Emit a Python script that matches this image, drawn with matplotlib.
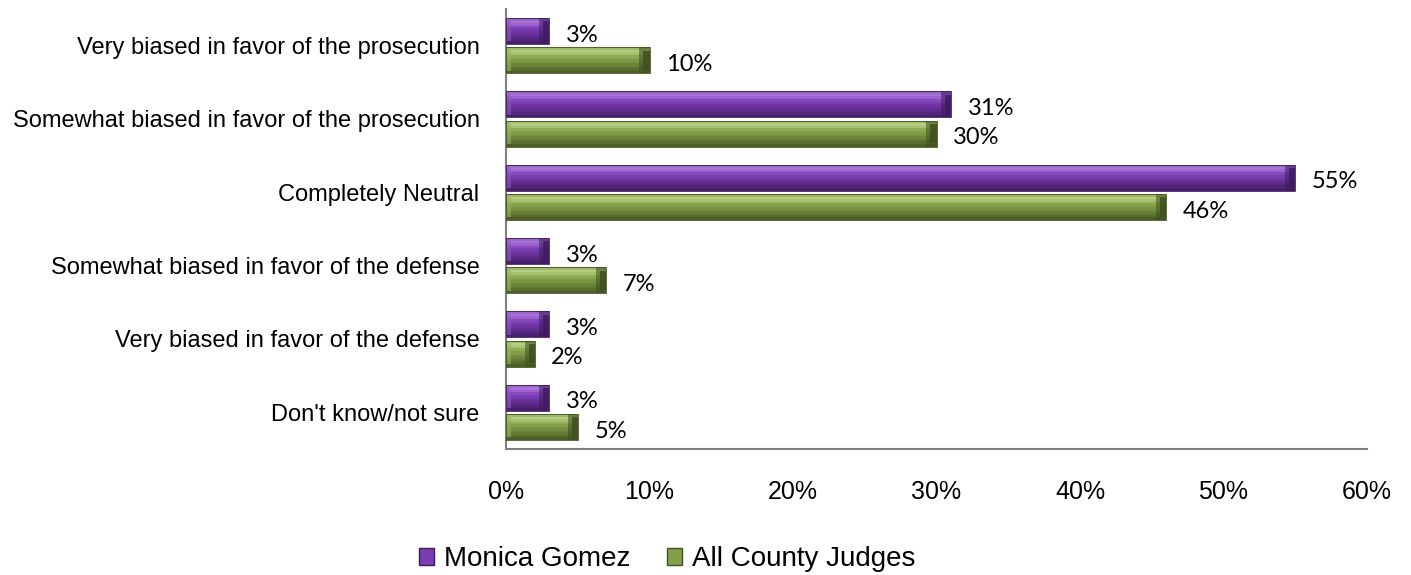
import matplotlib
matplotlib.use("Agg")
import matplotlib.pyplot as plt
import numpy as np
from matplotlib.patches import Patch

categories = [
    "Very biased in favor of the prosecution",
    "Somewhat biased in favor of the prosecution",
    "Completely Neutral",
    "Somewhat biased in favor of the defense",
    "Very biased in favor of the defense",
    "Don't know/not sure",
]
monica = [3, 31, 55, 3, 3, 3]
all_judges = [10, 30, 46, 7, 2, 5]
series_names = ["Monica Gomez", "All County Judges"]
xticks = [0, 10, 20, 30, 40, 50, 60]

plt.rcParams['font.family'] = ['Liberation Sans', 'DejaVu Sans']

fig = plt.figure(figsize=(14.11, 5.75), dpi=100)
ax = fig.add_axes([506/1411, 1-449/575, (1367-506)/1411, (449-9)/575])

y = np.arange(len(categories))
h = 0.355
off = 0.2

styles = [
    dict(base="#7A3DB0", edge="#3E1A5C", cap="#3E1A60", lcap="#8F57C4",
         bands=["#9A66C8", "#A774D6", "#9C62D0", "#8548BD", "#7A3DB0",
                "#6F35A2", "#643095", "#5A2A86", "#512579", "#46206A"]),
    dict(base="#839F4A", edge="#3F5120", cap="#3D4D1E", lcap="#97B25E",
         bands=["#A0BA6A", "#B4CE80", "#A6C270", "#8EAB55", "#839F4A",
                "#789342", "#6D873A", "#627A33", "#586D2D", "#4D5F27"]),
]

for vals, yc, st in [(np.array(monica, dtype=float), y - off, styles[0]),
                     (np.array(all_judges, dtype=float), y + off, styles[1])]:
    nb = len(st["bands"])
    bh = h / nb
    for k, col in enumerate(st["bands"]):
        ax.barh(yc - h / 2 + bh * (k + 0.5), vals, height=bh * 1.02, color=col, linewidth=0, zorder=2)
    # end caps (stepped bevel)
    capw = 0.7
    for frac, col, hh in [(1.0, st["cap"], 1.0), (0.6, st["cap"], 0.75)]:
        ax.barh(yc, np.full_like(vals, capw * frac), left=vals - capw * frac, height=h * hh,
                color=col, linewidth=0, zorder=3, alpha=0.55 if hh == 1.0 else 0.8)
    ax.barh(yc, np.full_like(vals, 0.35), left=0, height=h * 0.8, color=st["lcap"], linewidth=0, zorder=3, alpha=0.6)
    ax.barh(yc, vals, height=h, fill=False, edgecolor=st["edge"], linewidth=0.6, zorder=4)
    for v, yy in zip(vals, yc):
        ax.annotate(f"{int(v)}%", xy=(v, yy), xytext=(12, -3), textcoords="offset points",
                    va="center", ha="left", fontsize=17, family=["Lato", "DejaVu Sans"], color="#000000")

ax.set_xlim(0, 60)
ax.set_ylim(len(categories) - 0.5, -0.5)
ax.set_yticks(y)
ax.set_yticklabels(categories, fontsize=17)
ax.set_xticks(xticks)
ax.set_xticklabels([f"{t}%" for t in xticks], fontsize=18)
ax.tick_params(axis="both", length=0)
ax.tick_params(axis="y", pad=19)
ax.tick_params(axis="x", pad=22)
for s in ["top", "right"]:
    ax.spines[s].set_visible(False)
for s in ["left", "bottom"]:
    ax.spines[s].set_color("#808080")
    ax.spines[s].set_linewidth(1.5)

handles = [Patch(facecolor=styles[0]["base"], edgecolor=styles[0]["edge"]),
           Patch(facecolor=styles[1]["base"], edgecolor=styles[1]["edge"])]
fig.legend(handles, series_names, loc="center", bbox_to_anchor=(667/1411, 1-559/575),
           ncol=2, frameon=False, fontsize=20, handlelength=0.55, handleheight=0.55,
           handletextpad=0.35, columnspacing=1.3)

fig.savefig("out.png", dpi=100)
